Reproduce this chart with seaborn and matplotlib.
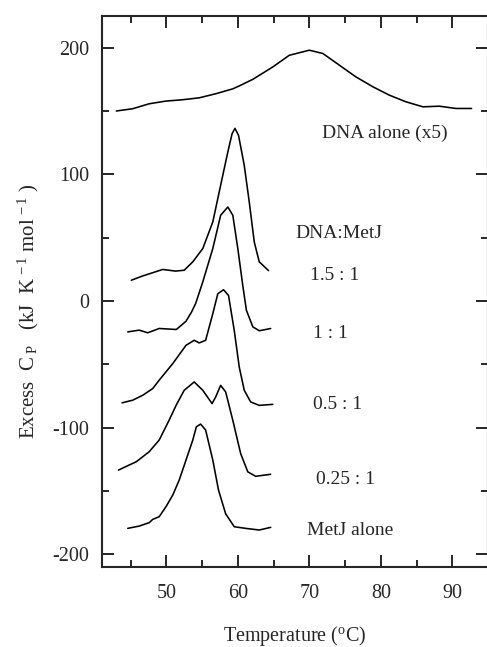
import matplotlib
matplotlib.use("Agg")
import matplotlib.pyplot as plt
import seaborn as sns
import pandas as pd
from matplotlib.ticker import MultipleLocator

# data (temperature in C, excess Cp offset per trace)
dna_t = [43.0, 45.3, 47.6, 49.9, 52.3, 54.6, 56.9, 59.3, 60.2, 62.1, 64.9, 67.2, 70.0,
         71.9, 74.2, 76.5, 78.9, 81.2, 83.5, 85.9, 88.2, 90.5, 92.7]
dna_cp = [150.0, 151.8, 155.7, 157.8, 158.9, 160.4, 163.6, 167.5, 169.8, 175.0, 184.8, 194.0, 198.0,
          195.4, 186.2, 177.0, 169.1, 162.5, 157.3, 153.3, 153.8, 152.0, 152.0]

r15_t = [45.1, 46.7, 49.5, 51.3, 52.5, 53.7, 55.1, 56.5, 57.6, 58.6, 59.2, 59.6, 60.1, 60.9,
         61.6, 62.3, 63.0, 64.3]
r15_cp = [16.4, 19.8, 24.9, 23.6, 24.3, 30.9, 41.4, 62.4, 91.4, 117.6, 132.1, 136.3, 130.8, 107.1,
          78.2, 46.6, 30.9, 24.0]

r10_t = [44.6, 46.2, 47.4, 49.0, 51.4, 52.75, 53.5, 54.1, 55.1, 56.5, 57.6, 58.6, 59.3, 60.0,
         60.7, 61.2, 62.1, 63.0, 64.6]
r10_cp = [-24.4, -23.0, -25.1, -21.7, -22.5, -16.0, -9.0, -2.0, 15.1, 41.4, 67.7, 74.2, 67.7, 41.4,
          12.0, -7.3, -20.4, -23.5, -21.7]

r05_t = [43.8, 45.3, 46.7, 48.1, 49.0, 50.9, 52.75, 53.9, 54.6, 55.5, 56.5, 57.2, 58.0, 58.7,
         59.5, 60.2, 60.9, 61.8, 63.0, 64.9]
r05_cp = [-80.4, -78.3, -74.4, -69.1, -62.5, -49.4, -35.0, -31.0, -33.1, -31.0, -10.0, 5.7, 8.9, 4.4,
          -23.2, -52.1, -70.5, -79.7, -82.4, -81.6]

r025_t = [43.3, 44.8, 45.8, 47.6, 49.0, 50.4, 51.4, 52.5, 53.9, 55.1, 56.4, 56.9, 57.6, 58.3, 59.3,
          60.4, 61.4, 62.5, 64.6]
r025_cp = [-133.5, -129.5, -126.9, -119.0, -109.8, -94.0, -82.0, -70.5, -63.9, -70.5, -81.0, -75.8,
           -66.6, -71.8, -94.2, -120.5, -134.9, -138.4, -136.8]

metj_t = [44.6, 46.2, 47.6, 48.1, 49.0, 49.95, 50.9, 51.8, 52.75, 53.7, 54.2, 54.8, 55.5, 56.5,
          57.3, 58.3, 59.5, 61.1, 63.0, 64.6]
metj_cp = [-179.5, -177.7, -175.0, -172.4, -170.3, -162.4, -153.2, -141.4, -125.6, -109.8, -99.3,
           -97.2, -101.9, -125.6, -149.3, -168.0, -178.2, -179.5, -180.8, -178.7]

trace_names = ["DNA alone (x5)", "1.5 : 1", "1 : 1", "0.5 : 1", "0.25 : 1", "MetJ alone"]
label_x = [80.5, 73.5, 73.0, 73.9, 75.0, 75.7]
label_y = [132.6, 20.3, -25.4, -82.0, -140.6, -180.8]
header_text = "DNA:MetJ"
header_pos = (74.2, 53.4)

sns.set_theme(style="ticks")
plt.rcParams["font.family"] = ["Liberation Serif", "DejaVu Serif"]
plt.rcParams["mathtext.fontset"] = "custom"
plt.rcParams["mathtext.rm"] = "Liberation Serif"
plt.rcParams["mathtext.it"] = "Liberation Serif:italic"
plt.rcParams["axes.unicode_minus"] = False

fig = plt.figure(figsize=(4.87, 6.47), dpi=100)
ax = fig.add_axes([102 / 487, 80 / 647, 386 / 487, 551 / 647])

traces = [(dna_t, dna_cp), (r15_t, r15_cp), (r10_t, r10_cp),
          (r05_t, r05_cp), (r025_t, r025_cp), (metj_t, metj_cp)]
for name, (t, cp) in zip(trace_names, traces):
    df = pd.DataFrame({"T": t, "Cp": cp})
    sns.lineplot(data=df, x="T", y="Cp", sort=False, estimator=None,
                 color="black", lw=1.15, ax=ax)

for name, x, y in zip(trace_names, label_x, label_y):
    ax.text(x, y, name, ha="center", va="center", fontsize=14)
ax.text(header_pos[0], header_pos[1], header_text, ha="center", va="center", fontsize=14)

ax.set_xlim(41, 95)
ax.set_ylim(-210, 225)
ax.xaxis.set_major_locator(MultipleLocator(10))
ax.xaxis.set_minor_locator(MultipleLocator(5))
ax.yaxis.set_major_locator(MultipleLocator(100))
ax.yaxis.set_minor_locator(MultipleLocator(50))
ax.tick_params(which="both", direction="in", top=True, right=True, width=1.4, labelsize=14.5)
ax.tick_params(which="major", length=8.5, pad=9)
ax.tick_params(axis="x", which="major", pad=12)
ax.tick_params(which="minor", length=5)
for s in ax.spines.values():
    s.set_linewidth(1.5)
    s.set_visible(True)

ax.set_xlabel(r"Temperature ($^{\rm o}$C)", fontsize=14.5)
ax.set_ylabel(r"Excess  C$\,_{\rm P}$   (kJ  K$^{\,\rm -1}$ mol$^{\,\rm -1}$ )", fontsize=15)
ax.xaxis.set_label_coords(0.5, -0.103)
ax.yaxis.set_label_coords(-0.158, 0.465)

fig.savefig("out.png", dpi=100)
